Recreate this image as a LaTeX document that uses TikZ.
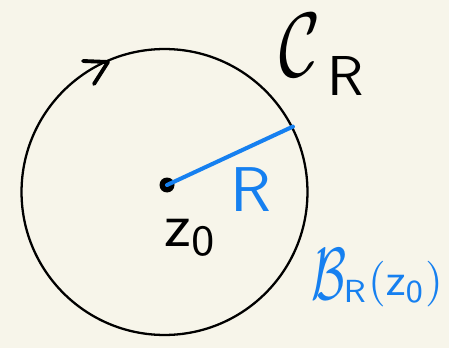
\documentclass[tikz,border=0pt]{standalone}
\usepackage{amsmath,amssymb}
\usepackage{tikz}

\definecolor{paper}{RGB}{247,245,234}
\definecolor{penblue}{RGB}{22,128,240}

\tikzset{
  ink/.style={line width=1.3pt,black},
  lbl/.style={inner sep=0pt,font=\sffamily},
}

\begin{document}
\begin{tikzpicture}[x=0.02cm,y=-0.02cm]
 \fill[paper] (0,0) rectangle (449,348);
 \useasboundingbox (0,0) rectangle (449,348);
 % the circle and its orientation mark
 \node[circle,draw,ink,minimum size=5.72cm,inner sep=0pt] (ball) at (164.5,192) {};
 \draw[line width=2.2pt,line cap=round,line join=round] (83,61)--(108,62)--(94,84);
 \node[lbl,xscale=4.0,yscale=5.2] (curve) at (300,45) {$\mathcal{C}$};
 \node[lbl,scale=3.2] (curvesub) at (346,76) {$\mathsf{R}$};
 % centre and radius
 \node[circle,fill,minimum size=0.3cm,inner sep=0pt] (z0) at (167,185) {};
 \draw[penblue,line width=2.3pt,line cap=round] (z0.center)--(ball.27);
 \node[lbl,penblue,scale=3.6] (rlbl) at (251,190) {$\mathsf{R}$};
 \node[lbl,scale=3.5] (zlbl) at (191,237) {$\mathsf{z}_{\mathsf{0}}$};
 \node[lbl,penblue,xscale=2.9,yscale=4.2] (ballb) at (329,274) {$\mathcal{B}$};
 \node[lbl,penblue,scale=2.6,anchor=west] (ballarg) at (343,284) {$_{\mathsf{R}}(\mathsf{z}_{\mathsf{0}})$};
\end{tikzpicture}
\end{document}
